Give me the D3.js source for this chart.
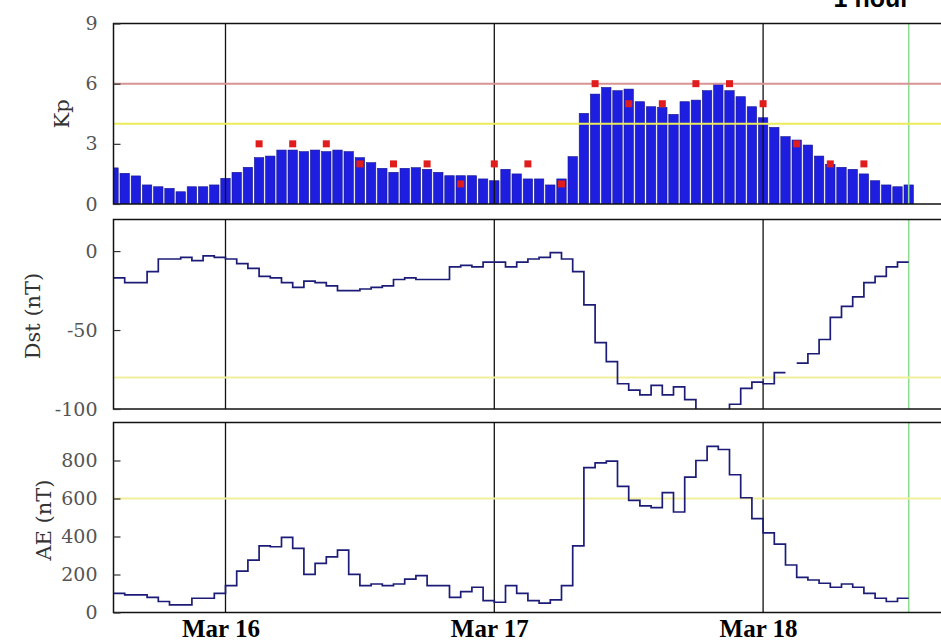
<!DOCTYPE html>
<html>
<head>
<meta charset="utf-8">
<script src="https://cdn.jsdelivr.net/npm/d3@7"></script>
<style>
body { margin: 0; background: #fff; }
</style>
</head>
<body>
<div id="chart"></div>
<script>
// hourly series, first value is Mar 15 14:00 UT
var startTime = "2013-03-15T14:00:00Z";
var endTime = "2013-03-18T16:00:00Z";
var nowTime = "2013-03-18T13:00:00Z";
var dayTicks = ["2013-03-16T00:00:00Z", "2013-03-17T00:00:00Z", "2013-03-18T00:00:00Z"];

var kpHourly = [1.8, 1.53, 1.4, 0.95, 0.86, 0.78, 0.61, 0.86, 0.86, 0.95,
    1.28, 1.58, 1.83, 2.31, 2.39, 2.69, 2.69, 2.61, 2.69, 2.61,
    2.69, 2.61, 2.31, 2.06, 1.78, 1.58, 1.78, 1.81, 1.73, 1.58,
    1.41, 1.41, 1.41, 1.25, 1.16, 1.73, 1.5, 1.25, 1.25, 0.95,
    1.25, 2.36, 4.52, 5.48, 5.81, 5.65, 5.73, 5.1, 4.85, 4.82,
    4.47, 5.1, 5.18, 5.65, 5.98, 5.65, 5.35, 4.85, 4.3, 3.82,
    3.36, 3.19, 2.94, 2.39, 1.98, 1.83, 1.73, 1.5, 1.16, 0.95,
    0.86, 0.95];

// official 3-hour Kp, first one at Mar 16 03:00
var kp3hStart = "2013-03-16T03:00:00Z";
var kp3h = [3, 3, 3, 2, 2, 2, 1, 2, 2, 1, 6, 5, 5, 6, 6, 5, 3, 2, 2];

var dstHourly = [-17, -20, -20, -13, -5, -5, -4, -6, -3, -4,
    -5, -8, -11, -16, -17, -20, -23, -19, -20, -22,
    -25, -25, -24, -23, -22, -18, -17, -18, -18, -18,
    -10, -9, -10, -7, -7, -10, -7, -5, -4, -1,
    -5, -13, -34, -58, -70, -84, -88, -91, -85, -91,
    -86, -94, -103, -106, -104, -97, -87, -83, -84, -77,
    null, -71, -65, -56, -42, -35, -29, -20, -16, -10, -7];

var aeHourly = [101, 93, 93, 80, 58, 40, 40, 75, 75, 101,
    141, 218, 276, 351, 346, 395, 337, 201, 259, 293,
    328, 201, 141, 150, 141, 150, 176, 194, 141, 141,
    80, 110, 133, 63, 54, 141, 101, 63, 49, 66,
    141, 351, 762, 788, 797, 664, 590, 561, 552, 631,
    529, 713, 800, 874, 858, 725, 604, 494, 419, 360,
    250, 185, 171, 154, 133, 150, 133, 101, 75, 58, 75];

var kpTicks = [0, 3, 6, 9];
var dstTicks = [0, -50, -100];
var aeTicks = [0, 200, 400, 600, 800];

var W = 941, H = 641;
var HOUR = 3600000;
var t0 = new Date(startTime);
function hourTime(i) { return new Date(t0.getTime() + i * HOUR); }

var svg = d3.select("#chart").append("svg")
    .attr("width", W)
    .attr("height", H);

var x = d3.scaleUtc()
    .domain([t0, new Date(endTime)])
    .range([113.5, 942.3]);
var hourPx = x(hourTime(1)) - x(hourTime(0));

var panels = [
    { id: "kp", top: 23.5, bottom: 204, domain: [0, 9], ticks: kpTicks, title: "Kp", tx: 62, ty: 114 },
    { id: "dst", top: 219.5, bottom: 409, domain: [-100, 20], ticks: dstTicks, title: "Dst (nT)", tx: 33, ty: 316 },
    { id: "ae", top: 422.5, bottom: 612.5, domain: [0, 1000], ticks: aeTicks, title: "AE (nT)", tx: 44, ty: 520 }
];

panels.forEach(function(p) {
    p.y = d3.scaleLinear().domain(p.domain).range([p.bottom, p.top]);
    svg.append("clipPath").attr("id", "clip-" + p.id)
        .append("rect")
        .attr("x", x.range()[0]).attr("y", p.top)
        .attr("width", x.range()[1] - x.range()[0] + 10)
        .attr("height", p.bottom - p.top);
    p.g = svg.append("g");
    p.plot = p.g.append("g").attr("clip-path", "url(#clip-" + p.id + ")");
});

// kp bars
var kp = panels[0];
kp.plot.selectAll("rect.bar")
    .data(kpHourly)
    .enter().append("rect")
    .attr("class", "bar")
    .attr("x", function(d, i) { return x(hourTime(i)) - (hourPx - 1.8) / 2; })
    .attr("width", hourPx - 1.8)
    .attr("y", function(d) { return kp.y(d); })
    .attr("height", function(d) { return kp.y(0) - kp.y(d); })
    .attr("fill", "#1e1ee0")
    .attr("stroke", "#14148c")
    .attr("stroke-width", 0.6);

// day lines + now line in every panel
panels.forEach(function(p) {
    p.plot.selectAll("line.day")
        .data(dayTicks)
        .enter().append("line")
        .attr("class", "day")
        .attr("x1", function(d) { return x(new Date(d)); })
        .attr("x2", function(d) { return x(new Date(d)); })
        .attr("y1", p.top).attr("y2", p.bottom)
        .attr("stroke", "#111").attr("stroke-width", 1.3);
    p.plot.append("line")
        .attr("x1", x(new Date(nowTime))).attr("x2", x(new Date(nowTime)))
        .attr("y1", p.top).attr("y2", p.bottom)
        .attr("stroke", "#90dc90").attr("stroke-width", 1.6);
});

// thresholds
function hline(p, v, color) {
    p.plot.append("line")
        .attr("x1", x.range()[0]).attr("x2", x.range()[1] + 10)
        .attr("y1", p.y(v)).attr("y2", p.y(v))
        .attr("stroke", color).attr("stroke-width", 2);
}
hline(kp, 6, "#d89494");
hline(kp, 4, "#ecec5a");
hline(panels[1], -80, "#f2ef9c");
hline(panels[2], 600, "#f2ef9c");

// official kp squares
var k3t = new Date(kp3hStart);
kp.plot.selectAll("rect.k3")
    .data(kp3h)
    .enter().append("rect")
    .attr("class", "k3")
    .attr("x", function(d, i) { return x(new Date(k3t.getTime() + i * 3 * HOUR)) - 3.5; })
    .attr("y", function(d) { return kp.y(d) - 3.5; })
    .attr("width", 7).attr("height", 7)
    .attr("fill", "#e01c1c");

// step lines for Dst and AE
function stepPoints(vals) {
    var pts = [];
    vals.forEach(function(v, i) {
        if (v == null) { pts.push(null); return; }
        pts.push({ t: hourTime(i), v: v });
        pts.push({ t: hourTime(i + 1), v: v });
    });
    return pts;
}
[[panels[1], dstHourly], [panels[2], aeHourly]].forEach(function(pair) {
    var p = pair[0];
    var line = d3.line()
        .defined(function(d) { return d != null; })
        .x(function(d) { return x(d.t); })
        .y(function(d) { return p.y(d.v); });
    p.plot.append("path")
        .datum(stepPoints(pair[1]))
        .attr("d", line)
        .attr("fill", "none")
        .attr("stroke", "#1c1c78")
        .attr("stroke-width", 1.7);
});

// frames, y axes, titles
panels.forEach(function(p) {
    p.g.append("rect")
        .attr("x", x.range()[0]).attr("y", p.top)
        .attr("width", x.range()[1] - x.range()[0] + 20)
        .attr("height", p.bottom - p.top)
        .attr("fill", "none")
        .attr("stroke", "#111")
        .attr("stroke-width", 1.5);

    var ax = p.g.append("g")
        .attr("transform", "translate(" + x.range()[0] + ",0)")
        .call(d3.axisLeft(p.y).tickValues(p.ticks)
            .tickFormat(function(d) { return String(d); })
            .tickSizeInner(-7).tickSizeOuter(0).tickPadding(16));
    ax.select(".domain").remove();
    ax.selectAll(".tick line").attr("stroke", "#333").attr("stroke-width", 1.2);
    ax.selectAll(".tick text")
        .attr("fill", "#555")
        .style("font-family", "'DejaVu Serif', serif")
        .style("font-size", "19px");

    p.g.append("text")
        .attr("transform", "translate(" + p.tx + "," + p.ty + ") rotate(-90)")
        .attr("text-anchor", "middle")
        .attr("dy", "0.35em")
        .attr("fill", "#333")
        .style("font-family", "'DejaVu Serif', serif")
        .style("font-size", "21px")
        .text(p.title);
});

// date labels under AE
var ae = panels[2];
var xa = svg.append("g")
    .attr("transform", "translate(0," + ae.bottom + ")")
    .call(d3.axisBottom(x)
        .tickValues(dayTicks.map(function(d) { return new Date(d); }))
        .tickFormat(d3.utcFormat("%b %d"))
        .tickSize(0)
        .tickPadding(0));
xa.select(".domain").remove();
xa.selectAll(".tick text")
    .attr("fill", "#000")
    .attr("x", -5)
    .attr("y", 24)
    .attr("dy", "0")
    .style("font-family", "'Liberation Serif', serif")
    .style("font-weight", "bold")
    .style("font-size", "25px");

svg.append("text")
    .attr("x", 910).attr("y", 7)
    .attr("text-anchor", "end")
    .style("font-family", "'Liberation Sans', Arial, sans-serif")
    .style("font-weight", "bold")
    .style("font-size", "25px")
    .text("1 hour");
</script>
</body>
</html>
